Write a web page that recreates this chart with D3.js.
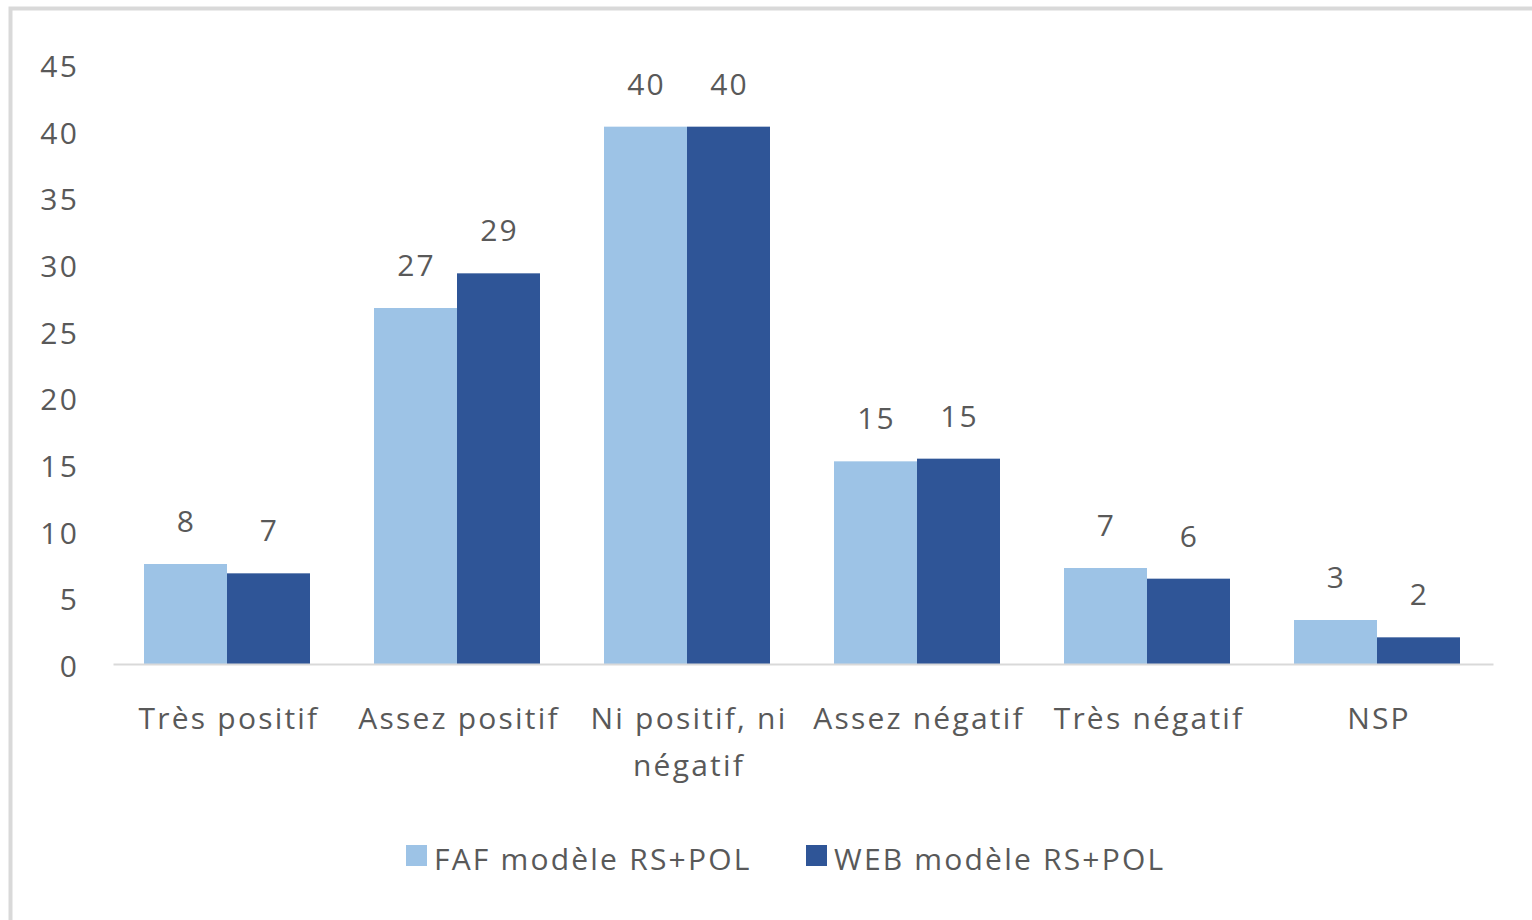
<!DOCTYPE html>
<html>
<head>
<meta charset="utf-8">
<script src="https://cdn.jsdelivr.net/npm/d3@7"></script>
<style>
  html, body { margin: 0; padding: 0; background: #fff; }
  svg { display: block; }
  text { font-family: "Open Sans", sans-serif; fill: #595959; white-space: pre; }
</style>
</head>
<body>
<svg id="chart" width="1532" height="920"></svg>
<script>
// Data
const categories = ["Très positif", "Assez positif", "Ni positif, ni\nnégatif", "Assez négatif", "Très négatif", "NSP"];
const seriesNames = ["FAF modèle RS+POL", "WEB modèle RS+POL"];
const fafValues = [7.5, 26.7, 40.3, 15.2, 7.2, 3.3];
const webValues = [6.8, 29.3, 40.3, 15.4, 6.4, 2.0];
const fafLabels = ["8", "27", "40", "15", "7", "3"];
const webLabels = ["7", "29", "40", "15", "6", "2"];
const yTicks = [0, 5, 10, 15, 20, 25, 30, 35, 40, 45];
const colors = ["#9DC3E6", "#2F5597"];

const FS = 30, LS = "2.2px";
const svg = d3.select("#chart");

// outer border (chart area frame)
svg.append("rect")
  .attr("x", 10.5).attr("y", 8.5)
  .attr("width", 1600).attr("height", 1000)
  .attr("fill", "none").attr("stroke", "#d9d9d9").attr("stroke-width", 4);

const plot = { left: 113, right: 1493, top: 64, bottom: 664 };

const x = d3.scaleBand().domain(categories).range([plot.left, plot.right]).paddingInner(0).paddingOuter(0);
const groupW = 166;
const xs = d3.scaleBand().domain([0, 1]).range([0, groupW]);
const y = d3.scaleLinear().domain([0, 45]).range([plot.bottom, plot.top]);

// y axis labels
const yAxis = d3.axisLeft(y).tickValues(yTicks).tickSize(0).tickPadding(0);
const yg = svg.append("g").attr("transform", "translate(79,3)").call(yAxis);
yg.select(".domain").remove();
yg.selectAll("text").attr("font-size", FS).attr("fill", "#595959")
  .style("font-family", "Open Sans, sans-serif").style("letter-spacing", LS);

// bars
const rows = categories.map((c, i) => ({ c, vals: [fafValues[i], webValues[i]], labels: [fafLabels[i], webLabels[i]] }));
const groups = svg.append("g").selectAll("g").data(rows).join("g")
  .attr("transform", d => `translate(${x(d.c) + (x.bandwidth() - groupW) / 2 - 1},0)`);

groups.selectAll("rect").data(d => d.vals.map((v, k) => ({ v, k })))
  .join("rect")
  .attr("x", d => xs(d.k))
  .attr("width", xs.bandwidth())
  .attr("y", d => y(d.v))
  .attr("height", d => y(0) - y(d.v))
  .attr("fill", d => colors[d.k]);

groups.selectAll("text.val").data(d => d.vals.map((v, k) => ({ v, k, l: d.labels[k] })))
  .join("text").attr("class", "val")
  .attr("x", d => xs(d.k) + xs.bandwidth() / 2 + 1)
  .attr("y", d => y(d.v) - 32)
  .attr("text-anchor", "middle")
  .attr("font-size", FS)
  .style("letter-spacing", LS)
  .text(d => d.l);

// x axis line
const xAxis = d3.axisBottom(x).tickSize(0).tickFormat("");
const xg = svg.append("g").attr("transform", `translate(0,${plot.bottom})`).call(xAxis);
xg.select(".domain").attr("stroke", "#d9d9d9").attr("stroke-width", 2);

// category labels
const catG = svg.append("g");
categories.forEach(c => {
  const lines = c.split("\n");
  const cx = x(c) + x.bandwidth() / 2 + 1;
  const t = catG.append("text")
    .attr("x", cx)
    .attr("y", 729)
    .attr("text-anchor", "middle")
    .attr("font-size", FS)
    .style("letter-spacing", LS);
  lines.forEach((ln, i) => {
    t.append("tspan").attr("x", cx).attr("dy", i === 0 ? 0 : 47).text(ln);
  });
});

// legend
const legendX = [406, 806];
const leg = svg.append("g");
seriesNames.forEach((s, i) => {
  leg.append("rect").attr("x", legendX[i]).attr("y", 845).attr("width", 21).attr("height", 21).attr("fill", colors[i]);
  leg.append("text").attr("x", legendX[i] + 28).attr("y", 870)
    .attr("font-size", FS).style("letter-spacing", LS).text(s);
});
</script>
</body>
</html>
